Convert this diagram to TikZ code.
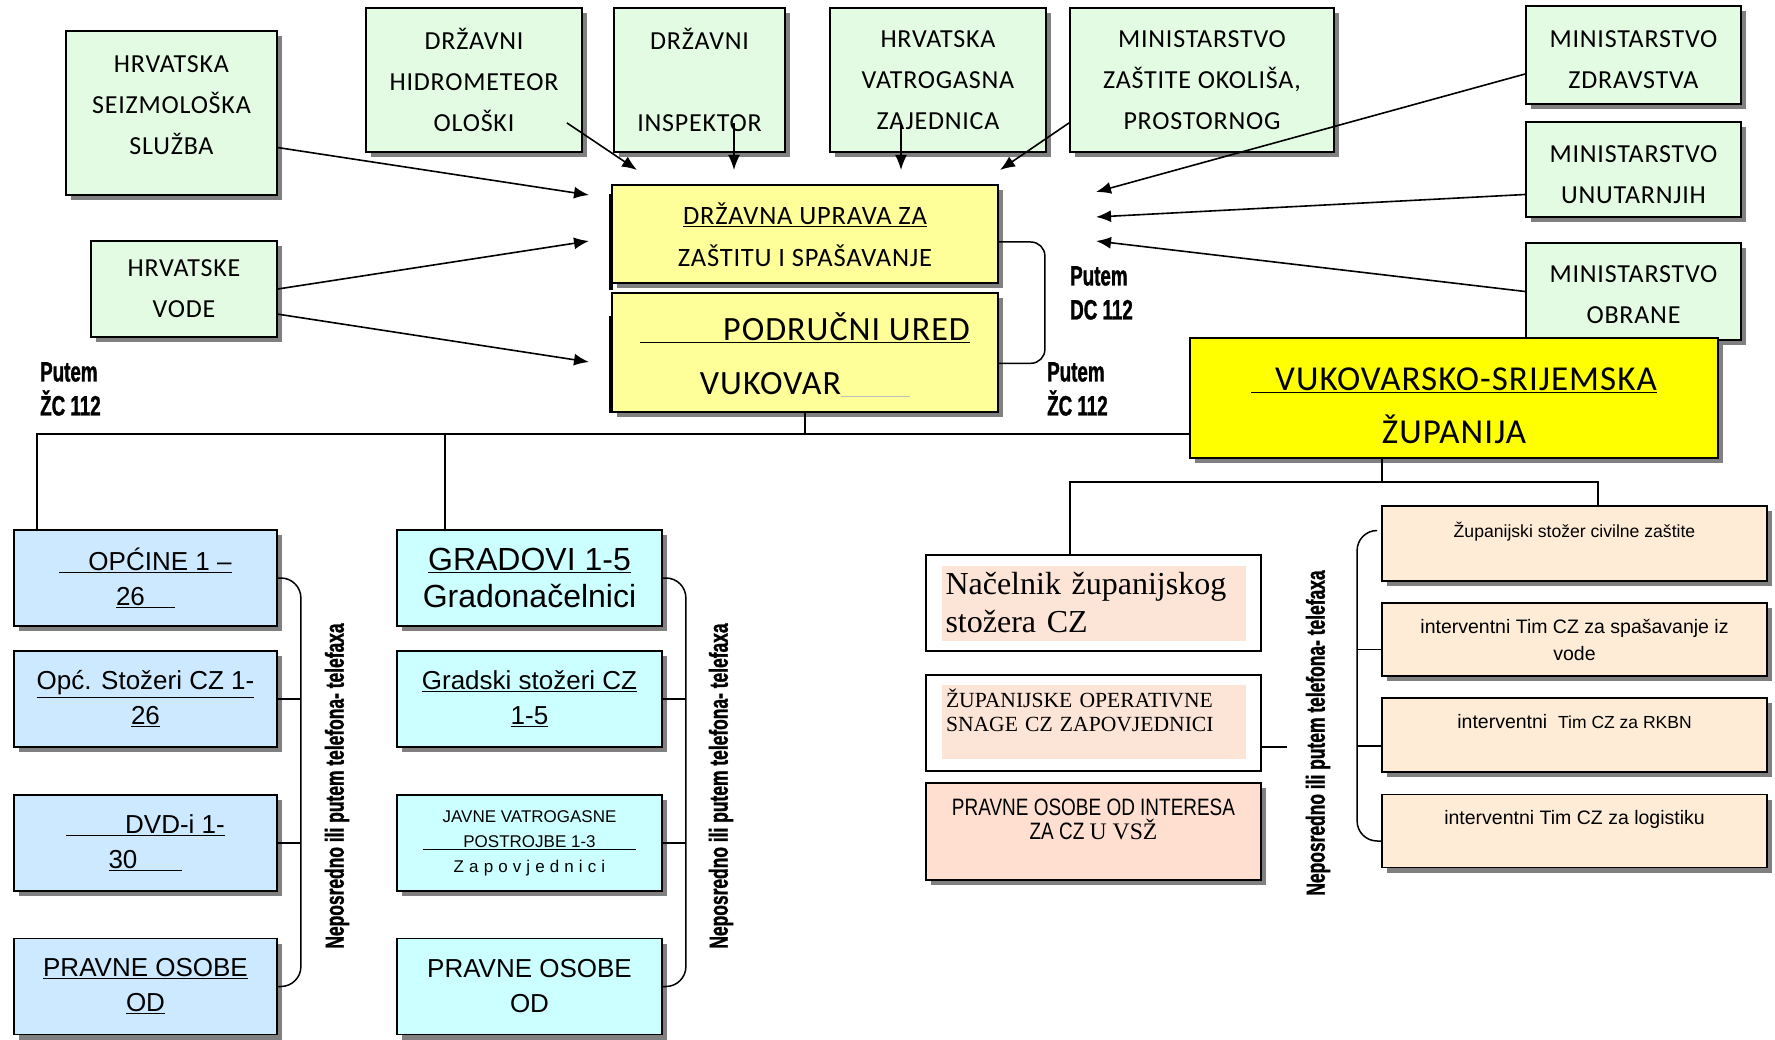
\documentclass[tikz,border=0pt]{standalone}
\usepackage{fontspec}
\setmainfont{Liberation Sans}
\newfontfamily\calfont[LetterSpace=3]{Carlito}
\newfontfamily\timesfont{Liberation Serif}
\newfontfamily\narfont[FakeStretch=0.8]{Liberation Sans}
\newfontfamily\condfont[FakeStretch=0.67, FakeBold=1.2]{Liberation Sans}
\newfontfamily\widefont[LetterSpace=30]{Liberation Sans}
\usetikzlibrary{arrows.meta,positioning,shadows}

\definecolor{agencygreen}{HTML}{E3FBE3}
\definecolor{officeyellow}{HTML}{FFFF99}
\definecolor{countyyellow}{HTML}{FFFF00}
\definecolor{unitblue}{HTML}{CCE9FF}
\definecolor{citycyan}{HTML}{CCFFFF}
\definecolor{peachin}{HTML}{FCE4D6}
\definecolor{peachbox}{HTML}{FEDFD0}
\definecolor{teamfill}{HTML}{FEECD6}

\begin{document}
\begin{tikzpicture}[x=1pt, y=-1pt, >={Latex[length=15pt,width=12pt]},
  link/.style={draw, line width=1.5pt},
  arr/.style={->, line width=1.6pt},
  shdw/.style={drop shadow={shadow xshift=5pt, shadow yshift=-5pt, fill=black!50, opacity=1}},
  agency/.style={draw, line width=1.8pt, fill=agencygreen, shdw, align=center, inner sep=0pt,
                 font=\calfont\fontsize{26}{41}\selectfont},
  office/.style={draw, line width=1.8pt, fill=officeyellow, shdw, align=center, inner sep=0pt},
  unit/.style={draw, line width=1.8pt, fill=unitblue, shdw, align=center, inner sep=0pt,
               minimum width=263pt, minimum height=96pt, font=\fontsize{26}{35}\selectfont},
  city/.style={unit, fill=citycyan, minimum width=265pt},
  team/.style={draw, line width=1.8pt, fill=teamfill, shdw, align=center, inner sep=0pt,
               minimum width=385pt, font=\fontsize{19.5}{27}\selectfont},
  cellframe/.style={draw, line width=1.8pt, fill=white, minimum width=335pt, minimum height=96pt},
  inset/.style={fill=peachin, minimum width=304pt, minimum height=75pt, text width=296pt,
                inner xsep=4pt, inner ysep=0pt, align=left},
  putem/.style={anchor=north west, inner sep=0pt, align=left,
                font=\condfont\bfseries\fontsize{28}{34}\selectfont},
  rotnote/.style={rotate=90, inner sep=0pt, font=\condfont\bfseries\fontsize{26}{30}\selectfont}]

\useasboundingbox (0,0) rectangle (1775,1040);

% state agencies
\node[agency, minimum width=211pt, minimum height=164pt] (seiz) at (171.5,113) {HRVATSKA\\SEIZMOLOŠKA\\SLUŽBA\\[-25pt]\mbox{}};
\node[agency, minimum width=216pt, minimum height=144pt] (hidro) at (474,80) {DRŽAVNI\\HIDROMETEOR\\OLOŠKI};
\node[agency, minimum width=171pt, minimum height=144pt] (insp) at (699.5,80) {DRŽAVNI\\\mbox{}\\INSPEKTOR};
\node[agency, minimum width=216pt, minimum height=144pt] (vatro) at (938,80) {HRVATSKA\\VATROGASNA\\ZAJEDNICA};
\node[agency, minimum width=264pt, minimum height=144pt] (minzast) at (1202,80) {MINISTARSTVO\\ZAŠTITE OKOLIŠA,\\PROSTORNOG};
\node[agency, minimum width=215pt, minimum height=98pt] (zdrav) at (1633.5,55) {\mbox{}\\[-14pt]MINISTARSTVO\\ZDRAVSTVA};
\node[agency, minimum width=215pt, minimum height=95pt] (unutar) at (1633.5,169.5) {\mbox{}\\[-14pt]MINISTARSTVO\\UNUTARNJIH};
\node[agency, minimum width=215pt, minimum height=97pt] (obrana) at (1633.5,291.5) {\mbox{}\\[-18pt]MINISTARSTVO\\OBRANE};
\node[agency, minimum width=186pt, minimum height=96pt] (vode) at (184,289) {HRVATSKE\\VODE};

% offices
\node[office, minimum width=386pt, minimum height=98pt, font=\calfont\fontsize{26.5}{42}\selectfont]
  (uprava) at (805,234) {\mbox{}\\[-19pt]\underline{DRŽAVNA UPRAVA ZA}\\ZAŠTITU I SPAŠAVANJE};
\node[office, minimum width=386pt, minimum height=119pt, below=8pt of uprava, font=\calfont\fontsize{34}{54}\selectfont]
  (podrucni) {\mbox{}\\[-22pt]\underline{\hspace{83pt}PODRUČNI URED}\\VUKOVAR{\color{black!25}\underline{\hspace{69pt}}}};
\node[office, fill=countyyellow, minimum width=528pt, minimum height=120pt, font=\calfont\fontsize{35}{53}\selectfont]
  (zupanija) at (1454,398) {\mbox{}\\[-14.5pt]\underline{\hspace{24pt}VUKOVARSKO-SRIJEMSKA}\\ŽUPANIJA};
\draw[line width=4pt] ([yshift=-10pt]uprava.north west) -- ([yshift=-6pt]uprava.south west);
\draw[line width=4pt] ([yshift=-24pt]podrucni.north west) -- (podrucni.south west);

% municipalities
\node[unit] (opcine) at (145.5,578) {\underline{\hspace{29pt}OPĆINE 1 –}\\\underline{26\hspace{30pt}}};
\node[unit] (ostozeri) at (145.5,699) {\underline{Opć. Stožeri CZ 1-}\\\underline{26}};
\node[unit] (dvd) at (145.5,843) {\underline{\hspace{59pt}DVD-i 1-}\\\underline{30\hspace{45pt}}};
\node[unit] (opravne) at (145.5,986.5) {\underline{PRAVNE OSOBE}\\\underline{OD}};

% towns
\node[city, font=\fontsize{32}{37}\selectfont] (gradovi) at (529.5,578) {\underline{GRADOVI 1-5}\\Gradonačelnici};
\node[city] (gstozeri) at (529.5,699) {\underline{Gradski stožeri CZ}\\\underline{1-5}};
\node[city, font=\fontsize{17}{25}\selectfont] (javne) at (529.5,843)
  {JAVNE VATROGASNE\\\underline{\hspace{40pt}POSTROJBE 1-3\hspace{40pt}}\\{\widefont Zapovjednici}};
\node[city] (gpravne) at (529.5,986.5) {PRAVNE OSOBE\\OD};

% county staff
\node[cellframe] (nacelnik) at (1093.5,603) {};
\node[inset, font=\timesfont\fontsize{32}{38}\selectfont] (nacelnikTxt) at (nacelnik.center) {Načelnik županijskog\\stožera CZ};
\node[cellframe] (operativne) at (1093.5,723) {};
\node[inset, minimum height=74pt, font=\timesfont\fontsize{21.6}{24}\selectfont] (operativneTxt) at (1094,722)
  {ŽUPANIJSKE OPERATIVNE\\SNAGE CZ ZAPOVJEDNICI\\\mbox{}};
\node[draw, line width=1.8pt, fill=peachbox, shdw, align=center, inner sep=0pt, minimum width=335pt, minimum height=97pt,
      font=\narfont\fontsize{23.7}{24}\selectfont] (pravnei) at (1093.5,831.5)
  {PRAVNE OSOBE OD INTERESA\\ZA CZ {\timesfont U VSŽ}\\\mbox{}};

\node[team, minimum height=75pt] (zstozer) at (1574.5,543.5) {{\fontsize{17.6}{27}\selectfont Županijski stožer civilne zaštite}\\\mbox{}};
\node[team, minimum height=73pt] (spas) at (1574.5,639.5) {interventni Tim CZ za spašavanje iz\\vode};
\node[team, minimum height=74pt] (rkbn) at (1574.5,735) {interventni\ \ {\fontsize{17.5}{27}\selectfont Tim CZ za RKBN}\\\mbox{}};
\node[team, minimum height=73pt] (logist) at (1574.5,831) {interventni Tim CZ za logistiku\\\mbox{}};

% labels
\node[putem] (putemL) at (40,362) {Putem\\ŽC 112};
\node[putem] (putemDC) at (1070,266) {Putem\\DC 112};
\node[putem] (putemZC) at (1047,362) {Putem\\ŽC 112};
\node[rotnote] (noteL) at (337,786) {Neposredno ili putem telefona- telefaxa};
\node[rotnote] (noteM) at (721,786) {Neposredno ili putem telefona- telefaxa};
\node[rotnote] (noteR) at (1318,733) {Neposredno ili putem telefona- telefaxa};

% arrow tips
\coordinate (tSeiz) at (589,195);
\coordinate (tVode1) at (589,241);
\coordinate (tVode2) at (589,362);
\coordinate (tHidro) at (637,170);
\coordinate (tInsp) at (734,170);
\coordinate (tVatro) at (901,170);
\coordinate (tMinz) at (1000,170);
\coordinate (tZdrav) at (1096,192);
\coordinate (tUnut) at (1096,217);
\coordinate (tObr) at (1096,241);

\draw[arr] (seiz.-18) -- (tSeiz);
\draw[arr] (vode.east) -- (tVode1);
\draw[arr] (vode.-15) -- (tVode2);
\draw[arr] ([xshift=-16pt,yshift=30pt]hidro.south east) -- (tHidro);
\draw[arr] ([xshift=34.5pt,yshift=30pt]insp.south) -- (tInsp);
\draw[arr] ([xshift=-37pt,yshift=30pt]vatro.south) -- (tVatro);
\draw[arr] ([yshift=30pt]minzast.south west) -- (tMinz);
\draw[arr] ([yshift=-19pt]zdrav.west) -- (tZdrav);
\draw[arr] ([yshift=-25pt]unutar.west) -- (tUnut);
\draw[arr] (obrana.west) -- (tObr);

% bus lines
\coordinate (lbus) at (37,434);
\coordinate (gbus) at (445,434);
\coordinate (nbus) at (1070,482);
\coordinate (rbus) at (1382,482);
\coordinate (sbus) at (1598,482);
\draw[link] (podrucni.south) -- (podrucni.south |- lbus);
\draw[link] (lbus |- opcine.north) -- (lbus) -- (lbus -| zupanija.west);
\draw[link] (gbus) -- (gbus |- gradovi.north);
\draw[link] (rbus |- zupanija.south) -- (rbus);
\draw[link] (nbus |- nacelnik.north) -- (nbus) -- (sbus) -- (sbus |- zstozer.north);
\draw[link, rounded corners=14pt] ([yshift=-8pt]uprava.east) -- ([xshift=46pt,yshift=-8pt]uprava.east)
  -- ([xshift=46pt,yshift=-11pt]podrucni.east) -- ([yshift=-11pt]podrucni.east);

% brackets
\draw[link, rounded corners=20pt] (opcine.east) -- ([xshift=23pt]opcine.east) -- ([xshift=23pt]opravne.east) -- (opravne.east);
\draw[link] (ostozeri.east) -- +(23pt,0);
\draw[link] (dvd.east) -- +(23pt,0);
\draw[link, rounded corners=20pt] (gradovi.east) -- ([xshift=23pt]gradovi.east) -- ([xshift=23pt]gpravne.east) -- (gpravne.east);
\draw[link] (gstozeri.east) -- +(23pt,0);
\draw[link] (javne.east) -- +(23pt,0);
\draw[link, rounded corners=20pt] ([xshift=-5pt,yshift=13pt]zstozer.west) -- ([xshift=-24pt,yshift=13pt]zstozer.west)
  -- ([xshift=-24pt,yshift=-10pt]logist.west) -- ([yshift=-10pt]logist.west);
\draw[link] ([yshift=-10pt]spas.west) -- +(-24pt,0);
\draw[link] ([yshift=-11pt]rkbn.west) -- +(-24pt,0);
\draw[link] ([yshift=-24pt]operativne.east) -- +(25pt,0);
\end{tikzpicture}
\end{document}
